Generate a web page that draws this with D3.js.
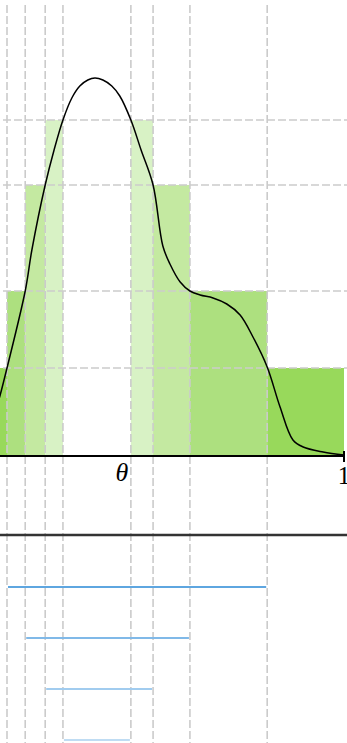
<!DOCTYPE html>
<html>
<head>
<meta charset="utf-8">
<script src="https://cdn.jsdelivr.net/npm/d3@7"></script>
<style>
  html, body { margin: 0; padding: 0; background: #fff; overflow: hidden; }
  svg { display: block; }
</style>
</head>
<body>
<svg id="chart" width="347" height="743"></svg>
<script>
// density curve (theta, density)
var curveTheta = [0.200, 0.225, 0.241, 0.282, 0.297, 0.327, 0.347, 0.367, 0.387, 0.405, 0.423, 0.439,
  0.457, 0.477, 0.495, 0.520, 0.543, 0.570, 0.592, 0.608, 0.631, 0.653, 0.676, 0.705, 0.736,
  0.766, 0.795, 0.827, 0.856, 0.885, 0.908, 0.953, 1.000];
var curveDensity = [0.22, 0.60, 0.88, 1.65, 2.06, 2.71, 3.06, 3.36, 3.58, 3.70, 3.76, 3.78,
  3.76, 3.70, 3.60, 3.36, 3.06, 2.71, 2.10, 1.92, 1.74, 1.65, 1.61, 1.58, 1.52,
  1.41, 1.19, 0.89, 0.49, 0.16, 0.09, 0.04, 0.01];

// credible levels and their intervals
var levels = [0.88, 1.65, 2.71, 3.36];
var intervalLo = [0.241, 0.282, 0.327, 0.367];
var intervalHi = [0.827, 0.653, 0.570, 0.520];

// step bars
var barLo = [0.000, 0.241, 0.282, 0.327, 0.520, 0.570, 0.653, 0.827];
var barHi = [0.241, 0.282, 0.327, 0.367, 0.570, 0.653, 0.827, 1.000];
var barHeight = [0.88, 1.65, 2.71, 3.36, 3.36, 2.71, 1.65, 0.88];
var barLevel = [0, 1, 2, 3, 3, 2, 1, 0];

var barColors = ["#98d95b", "#ade07f", "#c4e9a1", "#d8f2c5"];
var blueColors = ["#5ea6e0", "#80b9e8", "#a1ccef", "#bfdcf3"];

var svg = d3.select("#chart");

var x = d3.scaleLinear().domain([0, 1]).range([-100, 344]);
var y = d3.scaleLinear().domain([0, 4]).range([456, 56]);
var yInt = d3.scaleLinear().domain([0, 3]).range([587, 740]);

// bars
svg.append("g")
  .selectAll("rect")
  .data(barLo)
  .enter().append("rect")
  .attr("x", function(d){ return x(d); })
  .attr("width", function(d, i){ return x(barHi[i]) - x(d); })
  .attr("y", function(d, i){ return y(barHeight[i]); })
  .attr("height", function(d, i){ return y(0) - y(barHeight[i]); })
  .attr("fill", function(d, i){ return barColors[barLevel[i]]; });

// vertical guides at interval ends
var ends = intervalLo.concat(intervalHi);
svg.append("g")
  .selectAll("line")
  .data(ends)
  .enter().append("line")
  .attr("x1", function(d){ return x(d); })
  .attr("x2", function(d){ return x(d); })
  .attr("y1", 5)
  .attr("y2", 743)
  .attr("stroke", "#cbcbcb")
  .attr("stroke-width", 1.6)
  .attr("stroke-dasharray", "8,3");

// horizontal guides at levels
svg.append("g")
  .selectAll("line")
  .data(levels)
  .enter().append("line")
  .attr("x1", 3)
  .attr("x2", 347)
  .attr("y1", function(d){ return y(d); })
  .attr("y2", function(d){ return y(d); })
  .attr("stroke", "#cbcbcb")
  .attr("stroke-width", 1.6)
  .attr("stroke-dasharray", "8,3");

// density curve
var line = d3.line()
  .x(function(d){ return x(d); })
  .y(function(d, i){ return y(curveDensity[i]); })
  .curve(d3.curveCatmullRom.alpha(0.5));

svg.append("path")
  .attr("d", line(curveTheta))
  .attr("fill", "none")
  .attr("stroke", "#000")
  .attr("stroke-width", 1.5);

// theta axis
svg.append("line")
  .attr("x1", x(0)).attr("x2", x(1))
  .attr("y1", y(0)).attr("y2", y(0))
  .attr("stroke", "#000").attr("stroke-width", 2);
svg.append("line")
  .attr("x1", x(1)).attr("x2", x(1))
  .attr("y1", y(0) - 5).attr("y2", y(0) + 6)
  .attr("stroke", "#000").attr("stroke-width", 2);
svg.append("text")
  .attr("x", x(1)).attr("y", 484)
  .attr("text-anchor", "middle")
  .attr("font-family", "Liberation Serif, serif")
  .attr("font-size", 25)
  .text("1");
svg.append("text")
  .attr("x", x(0.5)).attr("y", 481)
  .attr("text-anchor", "middle")
  .attr("font-family", "Liberation Serif, serif")
  .attr("font-style", "italic")
  .attr("font-size", 26)
  .text("θ");

// lower panel
svg.append("line")
  .attr("x1", 0).attr("x2", 347)
  .attr("y1", 535).attr("y2", 535)
  .attr("stroke", "#333").attr("stroke-width", 2.5);

svg.append("g")
  .selectAll("line")
  .data(intervalLo)
  .enter().append("line")
  .attr("x1", function(d){ return x(d) + 1; })
  .attr("x2", function(d, i){ return x(intervalHi[i]) - 1; })
  .attr("y1", function(d, i){ return yInt(i); })
  .attr("y2", function(d, i){ return yInt(i); })
  .attr("stroke", function(d, i){ return blueColors[i]; })
  .attr("stroke-width", 2);
</script>
</body>
</html>
